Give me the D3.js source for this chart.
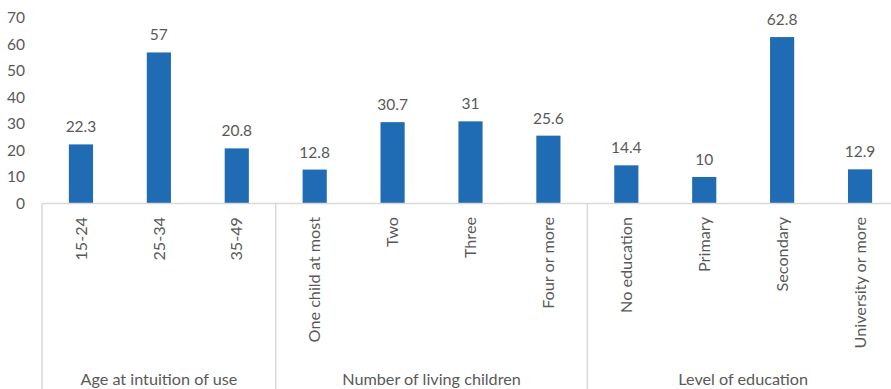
<!DOCTYPE html>
<html>
<head>
<meta charset="utf-8">
<script src="https://cdn.jsdelivr.net/npm/d3@7"></script>
<style>
  html, body { margin: 0; padding: 0; background: #fff; }
  svg { display: block; }
</style>
</head>
<body>
<svg id="chart" width="891" height="389"></svg>
<script>
// categories, values and groups
const categories = ['15-24', '25-34', '35-49',
  'One child at most', 'Two', 'Three', 'Four or more',
  'No education', 'Primary', 'Secondary', 'University or more'];
const values = [22.3, 57, 20.8, 12.8, 30.7, 31, 25.6, 14.4, 10, 62.8, 12.9];
const groupNames = ['Age at intuition of use', 'Number of living children', 'Level of education'];
const groupSizes = [3, 4, 4];
const yTicks = [0, 10, 20, 30, 40, 50, 60, 70];

const FONT = 'Lato, "Open Sans", sans-serif';
const TEXT = '#595959';
const BAR = '#1f6bb4';
const AXIS = '#d9d9d9';

const plot = { left: 42, right: 899, top: 18, zero: 203.5 };

const svg = d3.select('#chart');

const x = d3.scaleBand()
  .domain(categories)
  .range([plot.left, plot.right])
  .paddingInner(0.69)
  .paddingOuter(0.345);

const y = d3.scaleLinear()
  .domain([0, 70])
  .range([plot.zero, plot.top]);

// y axis labels (no line)
const yAxis = d3.axisLeft(y).tickValues(yTicks).tickSize(0).tickPadding(0);
const yg = svg.append('g')
  .attr('transform', `translate(25,0)`)
  .call(yAxis);
yg.select('.domain').remove();
yg.selectAll('text')
  .attr('fill', TEXT)
  .attr('font-size', '15.5px')
  .attr('font-family', FONT);

// bars
svg.append('g').selectAll('rect')
  .data(values)
  .join('rect')
  .attr('x', (d, i) => x(categories[i]))
  .attr('y', d => y(d))
  .attr('width', x.bandwidth())
  .attr('height', d => y(0) - y(d))
  .attr('fill', BAR);

// value labels
svg.append('g').selectAll('text')
  .data(values)
  .join('text')
  .attr('x', (d, i) => x(categories[i]) + x.bandwidth() / 2)
  .attr('y', d => y(d) - 12)
  .attr('text-anchor', 'middle')
  .attr('fill', TEXT)
  .attr('font-size', '15.5px')
  .attr('font-family', FONT)
  .text(d => d);

// horizontal axis line
svg.append('line')
  .attr('x1', plot.left).attr('x2', plot.right)
  .attr('y1', plot.zero).attr('y2', plot.zero)
  .attr('stroke', AXIS).attr('stroke-width', 1.5);

// rotated category labels
svg.append('g').selectAll('text')
  .data(categories)
  .join('text')
  .attr('transform', d => `translate(${x(d) + x.bandwidth() / 2},217) rotate(-90)`)
  .attr('dy', '0.35em')
  .attr('text-anchor', 'end')
  .attr('fill', TEXT)
  .attr('font-size', '16.2px')
  .attr('font-family', FONT)
  .text(d => d);

// group separators and group labels
const step = x.step();
let start = 0;
const bounds = [];
groupSizes.forEach(n => {
  bounds.push([start, start + n]);
  start += n;
});

svg.append('g').selectAll('line')
  .data(bounds.map(b => b[0]).concat([categories.length]))
  .join('line')
  .attr('x1', i => plot.left + i * step)
  .attr('x2', i => plot.left + i * step)
  .attr('y1', plot.zero)
  .attr('y2', 389)
  .attr('stroke', AXIS)
  .attr('stroke-width', 1.5);

svg.append('g').selectAll('text')
  .data(bounds)
  .join('text')
  .attr('x', b => plot.left + (b[0] + b[1]) / 2 * step)
  .attr('y', 385)
  .attr('text-anchor', 'middle')
  .attr('fill', TEXT)
  .attr('font-size', '16.2px')
  .attr('font-family', FONT)
  .text((b, i) => groupNames[i]);
</script>
</body>
</html>
